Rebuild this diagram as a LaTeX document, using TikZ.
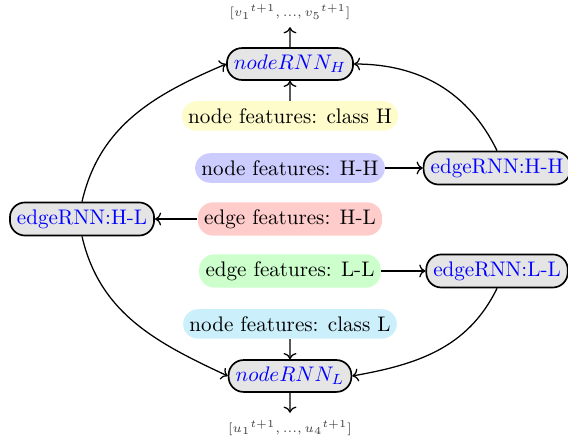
\documentclass[tikz,border=0pt]{standalone}
\usepackage{amsmath,amssymb}
\usetikzlibrary{arrows.meta, positioning, calc}

\begin{document}
\begin{tikzpicture}[
		scale=0.9,
		every node/.style={font=\normalsize, align=center},
		arrow/.style={->, semithick},
		rnn/.style={draw, thick, rounded corners=2.5mm, fill=gray!20, text=blue},
		feat/.style={rounded corners=2.5mm, inner xsep=3pt, minimum height=14pt},
		out label/.style={font=\fontsize{6}{7}\selectfont, text=black!75}
		]
		\useasboundingbox (0,0) rectangle (10.514,8.163);
		
		% Nodes
		\node[out label] (vout) at (5.368, 7.941) {$[{v_1}^{t+1}, ..., {v_5}^{t+1}]$};
		\node[rnn] (nodeH) at (5.368, 6.978) {$nodeRNN_H$};
		\node[feat, fill=yellow!20] (classH) at (5.368, 6.016) {node features: class H};
		\node[feat, fill=blue!20] (featHH) at (5.368, 5.053) {node features: H-H};
		\node[rnn] (edgeHH) at (9.200, 5.053) {edgeRNN:H-H};
		\node[feat, fill=red!20] (featHL) at (5.368, 4.109) {edge features: H-L};
		\node[rnn] (edgeHL) at (1.518, 4.109) {edgeRNN:H-L};
		\node[feat, fill=green!20] (featLL) at (5.368, 3.147) {edge features: L-L};
		\node[rnn] (edgeLL) at (9.200, 3.147) {edgeRNN:L-L};
		\node[feat, fill=cyan!20] (classL) at (5.368, 2.166) {node features: class L};
		\node[rnn] (nodeL) at (5.368, 1.203) {$nodeRNN_L$};
		\node[out label] (uout) at (5.368, 0.241) {$[{u_1}^{t+1}, ..., {u_4}^{t+1}]$};
		
		% features into RNNs
		\draw[arrow] (classH) -- (nodeH);
		\draw[arrow] (nodeH) -- (vout);
		\draw[arrow] (classL) -- (nodeL);
		\draw[arrow] (nodeL) -- (uout);
		\draw[arrow] (featHH) -- (edgeHH);
		\draw[arrow] (featHL) -- (edgeHL);
		\draw[arrow] (featLL) -- (edgeLL);
		
		% edgeRNNs into nodeRNNs
		\draw[arrow] (edgeHL.north) to[out=77, in=203] (nodeH.west);
		\draw[arrow] (edgeHL.south) to[out=-77, in=155] (nodeL.west);
		\draw[arrow] (edgeHH.north) to[out=116, in=0] (nodeH.east);
		\draw[arrow] (edgeLL.south) to[out=-116, in=10] (nodeL.east);
		
	\end{tikzpicture}
\end{document}
